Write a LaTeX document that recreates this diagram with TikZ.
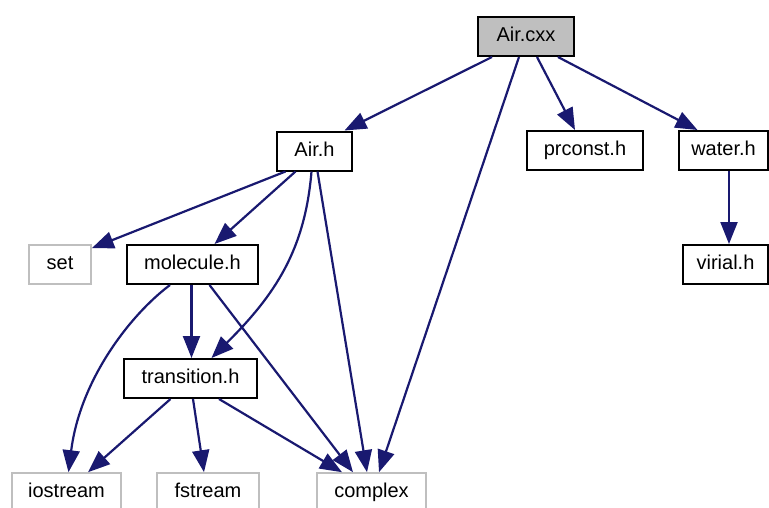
\documentclass[tikz,border=0pt]{standalone}
\usepackage{fontspec}
\setmainfont{Liberation Sans}
\usetikzlibrary{arrows.meta}
\definecolor{edgeblue}{RGB}{25,25,112}
\definecolor{extgray}{RGB}{191,191,191}
\begin{document}
\begin{tikzpicture}[x=1pt,y=-1pt,
  box/.style={draw=black, line width=2pt, fill=white, inner sep=0pt,
    minimum height=39pt, text height=14.5pt, text depth=4pt,
    font=\fontsize{20}{24}\selectfont},
  mainbox/.style={box, fill=extgray},
  extbox/.style={box, draw=extgray, line width=1.6pt},
  edge/.style={draw=edgeblue, line width=2.2pt,
    -{Triangle[length=22pt,width=17pt]}}]
\useasboundingbox (0,0) rectangle (769,507);

% nodes, top to bottom
\node[mainbox, minimum width=96pt]  (aircxx)  at (526,36.5)   {Air.cxx};
\node[box, minimum width=75pt]      (airh)    at (314.5,151)  {Air.h};
\node[box, minimum width=116pt]     (prconst) at (585,150.5)  {prconst.h};
\node[box, minimum width=89pt]      (water)   at (723.5,150.5){water.h};
\node[extbox, minimum width=62pt]   (set)     at (60,264.5)   {set};
\node[box, minimum width=131pt]     (molec)   at (192.5,264.5){molecule.h};
\node[box, minimum width=85pt]      (virial)  at (725.5,264.5){virial.h};
\node[box, minimum width=133pt]     (trans)   at (190.5,378.5){transition.h};
\node[extbox, minimum width=109pt]  (iostr)   at (66.5,492.5) {iostream};
\node[extbox, minimum width=102pt]  (fstr)    at (208,492.5)  {fstream};
\node[extbox, minimum width=109pt]  (cplx)    at (371.5,492.5){complex};

% include dependencies
\draw[edge] ([xshift=-34pt]aircxx.south) -- ([xshift=30pt]airh.north);
\draw[edge] ([xshift=-7pt]aircxx.south) -- ([xshift=7.5pt]cplx.north);
\draw[edge] ([xshift=11pt]aircxx.south) -- ([xshift=-10pt]prconst.north);
\draw[edge] ([xshift=32pt]aircxx.south) -- ([xshift=-26pt]water.north);

\draw[edge] ([xshift=-29pt]airh.south) -- ([yshift=-4pt]set.north east);
\draw[edge] ([xshift=-19pt]airh.south) -- ([xshift=22pt]molec.north);
\draw[edge] ([xshift=-3pt]airh.south) .. controls (305,250) and (275,295) .. ([xshift=21pt]trans.north);
\draw[edge] ([xshift=3pt]airh.south) -- ([xshift=-4.5pt]cplx.north);

\draw[edge] ([xshift=5.5pt]water.south) -- ([xshift=3.5pt]virial.north);

\draw[edge] ([xshift=-1pt]molec.south) -- ([xshift=1pt]trans.north);
\draw[edge] ([xshift=-22.5pt]molec.south) .. controls (130,315) and (80,380) .. ([xshift=2pt]iostr.north);
\draw[edge] ([xshift=17pt]molec.south) -- ([xshift=-18.5pt]cplx.north);

\draw[edge] ([xshift=-20pt]trans.south) -- ([xshift=21.5pt]iostr.north);
\draw[edge] ([xshift=2.5pt]trans.south) -- ([xshift=-4pt]fstr.north);
\draw[edge] ([xshift=28.5pt]trans.south) -- ([xshift=-29.5pt]cplx.north);
\end{tikzpicture}
\end{document}
